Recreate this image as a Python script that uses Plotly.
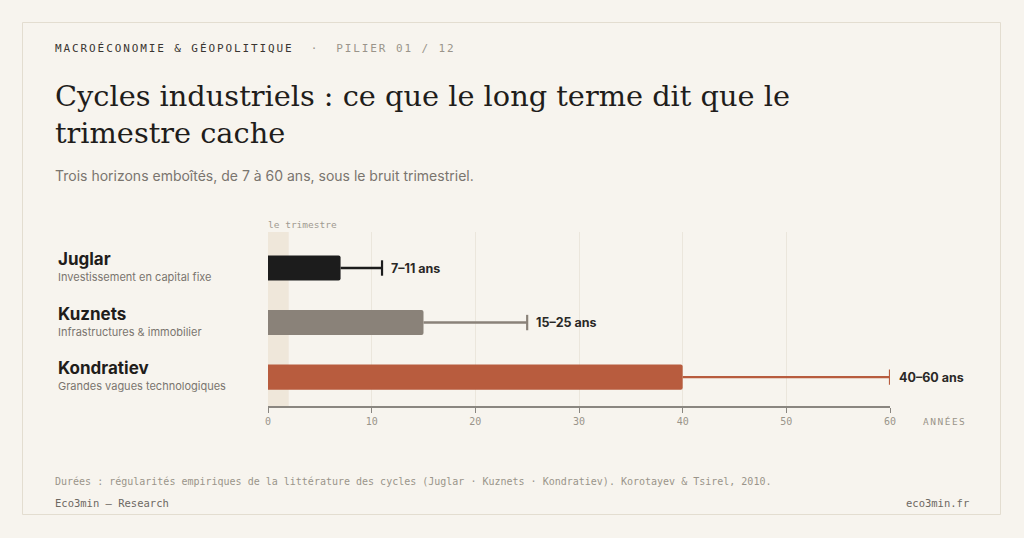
import plotly.graph_objects as go

# ---- data ----
cycles = ["Juglar", "Kuznets", "Kondratiev"]
descriptions = ["Investissement en capital fixe", "Infrastructures & immobilier", "Grandes vagues technologiques"]
dur_min = [7, 15, 40]
dur_max = [11, 25, 60]
value_labels = ["7–11 ans", "15–25 ans", "40–60 ans"]
x_ticks = [0, 10, 20, 30, 40, 50, 60]
quarter_band = [0, 2]

colors = ["#1c1c1c", "#8a8279", "#b85c3e"]

BG = "#f7f4ee"
MONO = "DejaVu Sans Mono"
SANS = "Inter"
SERIF = "DejaVu Serif"

W, H = 1024, 538
L, R, T, B = 268, 890, 232, 406
PAD = 2  # annotation inner padding compensation


def px(x):
    return (x - L) / (R - L)


def py(y):
    return (B - y) / (B - T)


fig = go.Figure()

for i, name in enumerate(cycles):
    # whisker: from min to max duration
    fig.add_trace(go.Scatter(
        x=[dur_min[i], dur_max[i]], y=[i, i], mode="lines",
        line=dict(color=colors[i], width=2.4),
        showlegend=False, hoverinfo="skip",
    ))
    fig.add_trace(go.Scatter(
        x=[dur_max[i]], y=[i], mode="markers",
        marker=dict(symbol="line-ns", size=11, line=dict(color=colors[i], width=2.2)),
        showlegend=False, hoverinfo="skip",
    ))
    fig.add_trace(go.Bar(
        x=[dur_min[i]], y=[i], orientation="h", width=0.46,
        marker=dict(color=colors[i], line=dict(width=0), cornerradius=2),
        showlegend=False, hoverinfo="skip",
    ))

annotations = []
for i, name in enumerate(cycles):
    annotations.append(dict(x=dur_max[i], y=i, xref="x", yref="y", text="<b>%s</b>" % value_labels[i],
                            xanchor="left", yanchor="middle", xshift=7, showarrow=False,
                            font=dict(family=SANS, size=12.5, color="#2a2826")))
    annotations.append(dict(x=px(58 - PAD), y=i, xref="paper", yref="y", text="<b>%s</b>" % name,
                            xanchor="left", yanchor="middle", yshift=9, showarrow=False,
                            font=dict(family=SANS, size=17, color="#1f1d1b")))
    annotations.append(dict(x=px(58 - PAD), y=i, xref="paper", yref="y", text=descriptions[i],
                            xanchor="left", yanchor="middle", yshift=-9, showarrow=False,
                            font=dict(family=SANS, size=11, color="#7a756e")))

LS = '<span style="letter-spacing:1.9px">%s</span>'
annotations += [
    dict(x=px(55 - PAD), y=py(48), xref="paper", yref="paper", showarrow=False, xanchor="left", yanchor="middle",
         text=(LS % "MACROÉCONOMIE &amp; GÉOPOLITIQUE") + '<span style="color:#9a948a">'
              + (LS % "  ·  PILIER 01 / 12") + "</span>",
         font=dict(family=MONO, size=11, color="#3a3632")),
    dict(x=px(55 - PAD), y=py(96), xref="paper", yref="paper", showarrow=False, xanchor="left", yanchor="middle",
         text="Cycles industriels : ce que le long terme dit que le",
         font=dict(family=SERIF, size=28.8, color="#1f1d1b")),
    dict(x=px(55 - PAD), y=py(133), xref="paper", yref="paper", showarrow=False, xanchor="left", yanchor="middle",
         text="trimestre cache",
         font=dict(family=SERIF, size=28.8, color="#1f1d1b")),
    dict(x=px(55 - PAD), y=py(175), xref="paper", yref="paper", showarrow=False, xanchor="left", yanchor="middle",
         text="Trois horizons emboîtés, de 7 à 60 ans, sous le bruit trimestriel.",
         font=dict(family=SANS, size=14, color="#7a756e")),
    dict(x=quarter_band[0], y=py(224), xref="x", yref="paper", showarrow=False, xanchor="left", yanchor="middle",
         xshift=-PAD, text="le trimestre", font=dict(family=MONO, size=9.5, color="#a09a90")),
    dict(x=px(923 - PAD), y=py(421), xref="paper", yref="paper", showarrow=False, xanchor="left", yanchor="middle",
         text='<span style="letter-spacing:1.5px">ANNÉES</span>',
         font=dict(family=MONO, size=9.5, color="#9a948a")),
    dict(x=px(55 - PAD), y=py(481), xref="paper", yref="paper", showarrow=False, xanchor="left", yanchor="middle",
         text="Durées : régularités empiriques de la littérature des cycles (Juglar · Kuznets · Kondratiev). Korotayev &amp; Tsirel, 2010.",
         font=dict(family=MONO, size=10, color="#9a948a")),
    dict(x=px(55 - PAD), y=py(503), xref="paper", yref="paper", showarrow=False, xanchor="left", yanchor="middle",
         text="Eco3min — Research", font=dict(family=MONO, size=10.5, color="#6d6862")),
    dict(x=px(969 + PAD), y=py(503), xref="paper", yref="paper", showarrow=False, xanchor="right", yanchor="middle",
         text="eco3min.fr", font=dict(family=MONO, size=10.5, color="#6d6862")),
]

shapes = [
    dict(type="rect", xref="paper", yref="paper", x0=px(22.5), x1=px(1000.5), y0=py(22.5), y1=py(514.5),
         line=dict(color="#e3ddd0", width=1), fillcolor=BG, layer="below"),
    dict(type="rect", xref="x", yref="paper", x0=quarter_band[0], x1=quarter_band[1], y0=0, y1=1,
         line=dict(width=0), fillcolor="#efe7da", layer="below"),
]

fig.update_layout(
    width=W, height=H,
    margin=dict(l=L, r=W - R, t=T, b=H - B),
    paper_bgcolor=BG, plot_bgcolor="rgba(0,0,0,0)",
    barmode="overlay",
    annotations=annotations, shapes=shapes,
    xaxis=dict(range=[0, 60], tickvals=x_ticks, showgrid=True, gridcolor="#ebe6dc", gridwidth=1,
               zeroline=False, showline=True, linecolor="#8a8680", linewidth=1.5,
               ticks="outside", ticklen=5, tickcolor="#8a8680", tickwidth=1,
               tickfont=dict(family=MONO, size=10, color="#9a948a"), fixedrange=True),
    yaxis=dict(range=[2.53, -0.66], showticklabels=False, showgrid=False, zeroline=False,
               showline=False, ticks="", fixedrange=True),
)

fig.write_html("out.html", config={"displayModeBar": False},
               post_script="document.body.style.margin='0';document.body.style.overflow='hidden';"
                           "document.body.style.background='%s';" % BG)
